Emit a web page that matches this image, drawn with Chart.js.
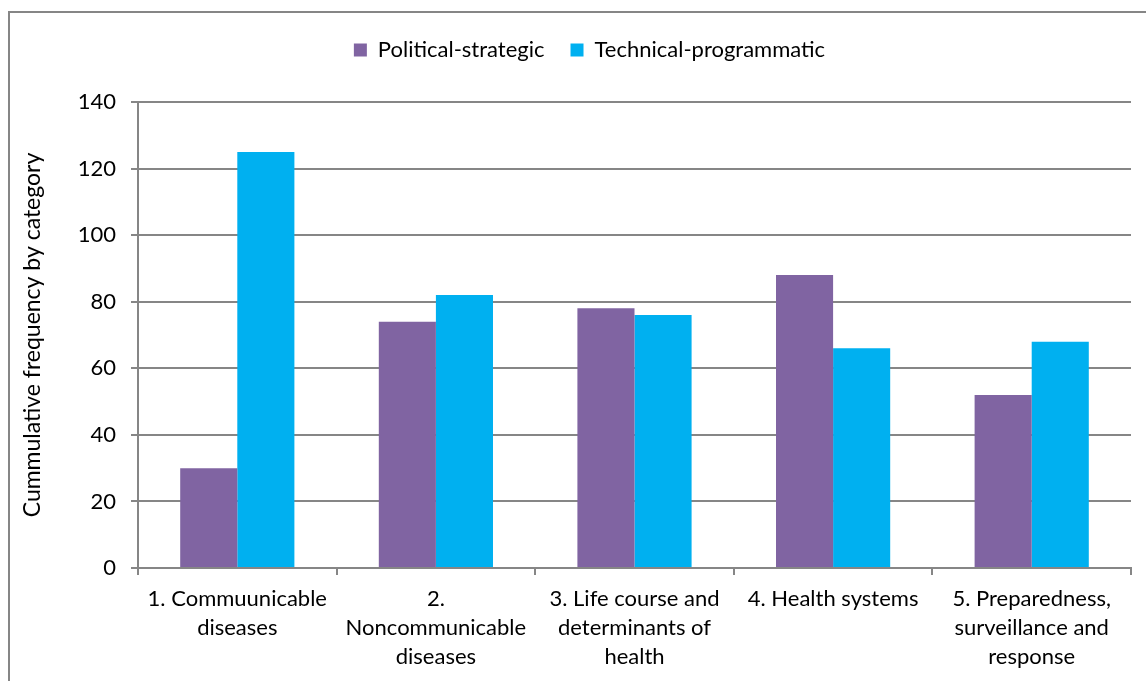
<!DOCTYPE html>
<html>
<head>
<meta charset="utf-8">
<script src="https://cdn.jsdelivr.net/npm/chart.js@4.4.1/dist/chart.umd.min.js"></script>
<style>
html,body{margin:0;padding:0;background:#fff;}
#wrap{position:absolute;left:0;top:0;width:1146px;height:681px;}
</style>
</head>
<body>
<div id="wrap"><canvas id="c" width="1146" height="681"></canvas></div>
<script>
const categories = [
  ["1. Commuunicable","diseases"],
  ["2.","Noncommunicable","diseases"],
  ["3. Life course and","determinants of","health"],
  ["4. Health systems"],
  ["5. Preparedness,","surveillance and","response"]
];
const politicalStrategic = [30, 74, 78, 88, 52];
const technicalProgrammatic = [125, 82, 76, 66, 68];
const yTicks = [0, 20, 40, 60, 80, 100, 120, 140];

const FONT = "Lato, 'Open Sans', sans-serif";
const GRAY = '#868686';

const borderPlugin = {
  id: 'outerBorder',
  beforeDraw(chart) {
    const ctx = chart.ctx;
    ctx.save();
    ctx.strokeStyle = GRAY;
    ctx.lineWidth = 2;
    ctx.strokeRect(9, 12, 1300, 800);
    ctx.restore();
  }
};
const legendFit = {
  id: 'legendFit',
  beforeInit(chart) {
    const lg = chart.legend;
    if (lg) {
      const orig = lg.fit;
      lg.fit = function() { orig.call(this); this.height = 89; };
    }
  },
  afterLayout(chart) {
    const lg = chart.legend;
    if (lg) { lg.left += 24; lg.right += 24; }
  }
};

new Chart(document.getElementById('c'), {
  type: 'bar',
  data: {
    labels: categories,
    datasets: [
      { label: 'Political-strategic', data: politicalStrategic, backgroundColor: '#8064A2', borderWidth: 0 },
      { label: 'Technical-programmatic', data: technicalProgrammatic, backgroundColor: '#00B0F0', borderWidth: 0 }
    ]
  },
  options: {
    responsive: false,
    animation: false,
    devicePixelRatio: 1,
    layout: { padding: { top: 13, right: 15, left: 0, bottom: 0 } },
    datasets: { bar: { categoryPercentage: 0.575, barPercentage: 1.0 } },
    plugins: {
      legend: {
        position: 'top',
        labels: {
          font: { family: FONT, size: 22 },
          color: '#000',
          boxWidth: 13,
          boxHeight: 13,
          padding: 26
        }
      },
      tooltip: { enabled: false }
    },
    scales: {
      x: {
        grid: { display: true, drawOnChartArea: false, drawTicks: true, tickLength: 7, color: GRAY, lineWidth: 2, offset: true },
        border: { display: true, color: GRAY, width: 2 },
        ticks: { font: { family: FONT, size: 22, lineHeight: 1.3 }, color: '#000', maxRotation: 0, autoSkip: false, padding: 10 },
        afterFit(scale) { scale.height = 113; }
      },
      y: {
        min: 0, max: 140,
        afterBuildTicks(scale) { scale.ticks = yTicks.map(v => ({ value: v })); },
        grid: { color: GRAY, lineWidth: 2, drawTicks: true, tickLength: 7 },
        border: { display: true, color: GRAY, width: 2 },
        ticks: { font: { family: FONT, size: 22 }, color: '#000', padding: 15 },
        title: { display: true, text: 'Cummulative frequency by category', font: { family: FONT, size: 23 }, color: '#000', padding: { top: 19, bottom: 0 } },
        afterFit(scale) { scale.width = 138; }
      }
    }
  },
  plugins: [borderPlugin, legendFit]
});
</script>
</body>
</html>
